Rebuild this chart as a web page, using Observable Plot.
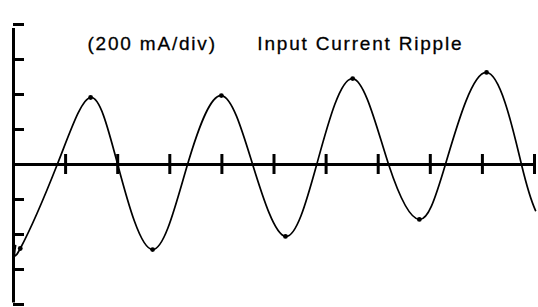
<!DOCTYPE html>
<html>
<head>
<meta charset="utf-8">
<script src="https://cdn.jsdelivr.net/npm/d3@7"></script>
<script src="https://cdn.jsdelivr.net/npm/@observablehq/plot@0.6"></script>
<style>
  html, body { margin: 0; padding: 0; background: #fff; }
  #chart svg { display: block; }
</style>
</head>
<body>
<div id="chart"></div>
<script>
// Time in horizontal divisions, current in mA (200 mA/div)
const time    = [0.04, 0.13, 0.84, 1.48, 2.00, 2.67, 3.34, 3.99, 4.59, 5.22, 5.82, 6.51, 7.20, 7.79, 8.29, 9.08, 9.75, 10.02];
const current = [-463, -480, 0, 383, 0, -486, 0, 394, 0, -411, 0, 491, 0, -314, 0, 526, 0, -263];

// extrema (noise spikes on the trace)
const peakTime    = [0.13, 1.48, 2.67, 3.99, 5.22, 6.51, 7.79, 9.08];
const peakCurrent = [-480, 383, -486, 394, -411, 491, -314, 526];

const xTicks = [1, 2, 3, 4, 5, 6, 7, 8, 9, 10];
const yTicks = [-800, -600, -400, -200, 200, 400, 600, 800];

const scaleLabel = "(200 mA/div)";
const titleLabel = "Input Current Ripple";

const wave = time.map((t, i) => ({t, i: current[i]}));
const peaks = peakTime.map((t, i) => ({t, i: peakCurrent[i]}));

const chart = Plot.plot({
  width: 538,
  height: 307,
  marginLeft: 13,
  marginRight: 4,
  marginTop: 24,
  marginBottom: 3,
  x: {domain: [0, 10], axis: null},
  y: {domain: [-800, 800], axis: null},
  style: {background: "#fff", fontFamily: "'Liberation Sans', Arial, sans-serif", letterSpacing: "1.8px"},
  marks: [
    // vertical axis
    Plot.ruleX([0], {y1: -800, y2: 800, stroke: "#000", strokeWidth: 3, insetBottom: -4, insetTop: -1.5}),
    // vertical axis ticks (pointing inward)
    Plot.ruleY(yTicks, {x1: 0, x2: 0, stroke: "#000", strokeWidth: 3, insetRight: -11}),
    // horizontal zero axis
    Plot.ruleY([0], {x1: 0, x2: 10, stroke: "#000", strokeWidth: 3}),
    // horizontal axis ticks (crossing)
    Plot.ruleX(xTicks, {y1: 0, y2: 0, stroke: "#000", strokeWidth: 3, insetTop: -10, insetBottom: -10}),
    // waveform
    Plot.line(wave, {x: "t", y: "i", curve: "natural", stroke: "#000", strokeWidth: 1.7}),
    Plot.dot(peaks, {x: "t", y: "i", r: 2.4, fill: "#000", stroke: null}),
    // labels
    Plot.text([scaleLabel], {x: 1.42, y: 657, text: d => d, textAnchor: "start", lineAnchor: "bottom", fontSize: 19, fill: "#000", stroke: "#000", strokeWidth: 0.3}),
    Plot.text([titleLabel], {x: 4.68, y: 657, text: d => d, textAnchor: "start", lineAnchor: "bottom", fontSize: 19, fill: "#000", stroke: "#000", strokeWidth: 0.3})
  ]
});
document.getElementById("chart").appendChild(chart);
</script>
</body>
</html>
